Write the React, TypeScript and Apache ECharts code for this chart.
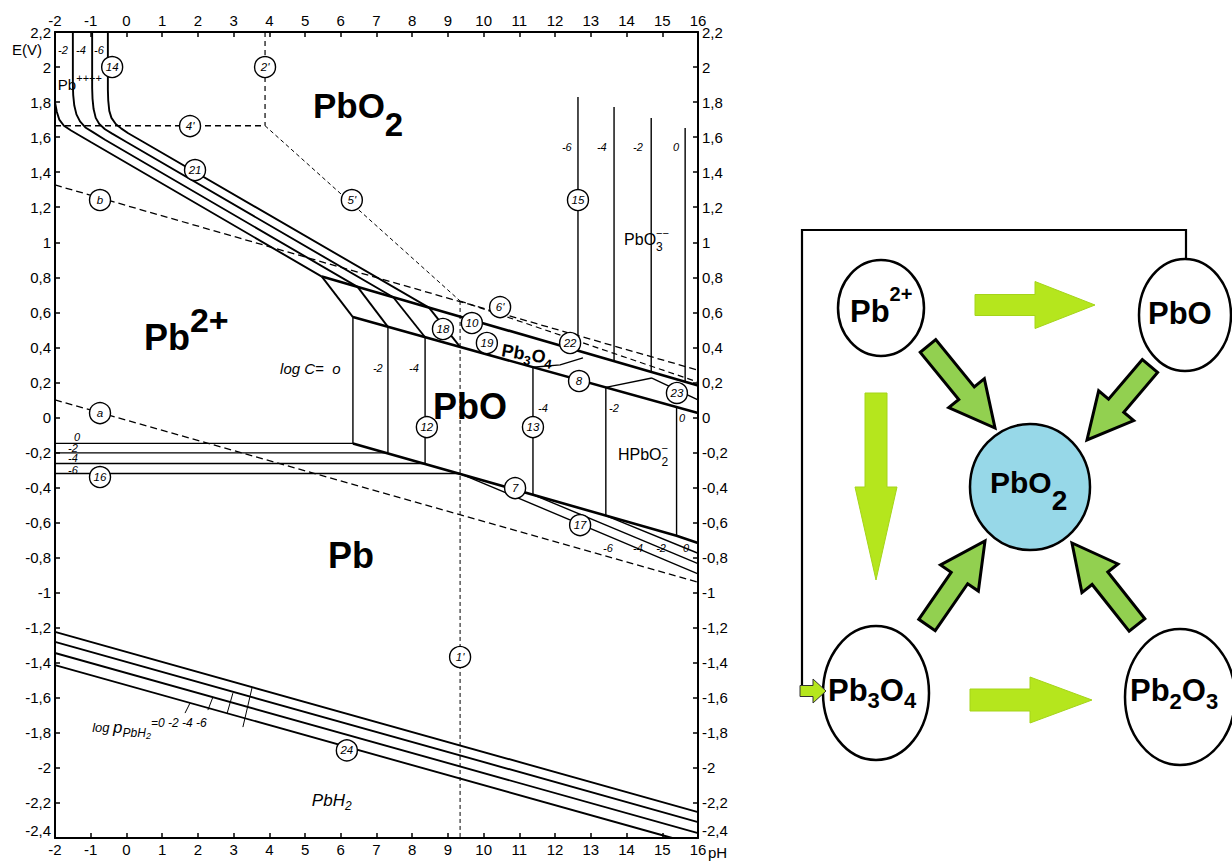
import React, { useEffect, useRef } from "react";
import * as echarts from "echarts";

const FONT = '"Liberation Sans", Arial, Helvetica, sans-serif';

// ---------- axes ----------
const PH_MIN = -2;
const PH_MAX = 16;
const E_MIN = -2.4;
const E_MAX = 2.2;

// ---------- boundary lines, points are [pH, E (V)] ----------
// lines 14 + 21 : PbO2 / dissolved lead, log C = 0, -2, -4, -6
const b21_0 = [[-2, 1.8], [-1.95, 1.745], [-1.88, 1.7], [-1.75, 1.665], [-1.55, 1.638], [-1.3, 1.608], [-1.0, 1.572], [5.47, 0.804]];
const b21_2 = [[-1.5, 2.2], [-1.5, 1.9], [-1.49, 1.84], [-1.46, 1.78], [-1.4, 1.73], [-1.3, 1.69], [-1.15, 1.655], [-0.95, 1.63], [-0.6, 1.585], [6.47, 0.745]];
const b21_4 = [[-0.96, 2.2], [-0.96, 1.88], [-0.95, 1.82], [-0.92, 1.76], [-0.86, 1.71], [-0.76, 1.675], [-0.6, 1.645], [-0.4, 1.62], [0, 1.572], [7.47, 0.686]];
const b21_6 = [[-0.52, 2.2], [-0.52, 1.87], [-0.51, 1.81], [-0.48, 1.75], [-0.42, 1.71], [-0.3, 1.675], [-0.15, 1.65], [0.05, 1.622], [0.45, 1.575], [8.47, 0.627]];
// line 10 (PbO2 / Pb3O4) and lower Pb3O4 boundary (19 / 8)
const b10 = [[5.47, 0.804], [16, 0.183]];
const b8 = [[6.34, 0.573], [16, 0.025]];
// lines 18 (Pb3O4 / Pb2+)
const b18_0 = [[5.47, 0.804], [6.34, 0.573]];
const b18_2 = [[6.47, 0.745], [7.32, 0.517]];
const b18_4 = [[7.47, 0.686], [8.36, 0.458]];
const b18_6 = [[8.47, 0.627], [9.34, 0.403]];
// lines 12 (PbO / Pb2+)
const b12_0 = [[6.34, 0.573], [6.34, -0.148]];
const b12_2 = [[7.32, 0.517], [7.32, -0.202]];
const b12_4 = [[8.36, 0.458], [8.36, -0.263]];
// lines 16 (Pb2+ / Pb)
const b16_0 = [[-2, -0.148], [6.34, -0.148]];
const b16_2 = [[-2, -0.202], [7.32, -0.202]];
const b16_4 = [[-2, -0.263], [8.36, -0.263]];
const b16_6 = [[-2, -0.32], [9.34, -0.32]];
// line 7 (PbO / Pb) and lines 17 (HPbO2- / Pb)
const b7 = [[6.34, -0.148], [15.4, -0.675], [16, -0.716]];
const b17_6 = [[9.34, -0.32], [16, -0.893]];
const b17_4 = [[11.38, -0.44], [16, -0.834]];
const b17_2 = [[13.42, -0.56], [16, -0.775]];
// lines 13 (PbO / HPbO2-)
const b13_4 = [[11.38, 0.287], [11.38, -0.44]];
const b13_2 = [[13.42, 0.172], [13.42, -0.56]];
const b13_0 = [[15.4, 0.06], [15.4, -0.675]];
// lines 15 (PbO2 / PbO3--)
const b15_6 = [[12.64, 1.829], [12.64, 0.381]];
const b15_4 = [[13.65, 1.772], [13.65, 0.322]];
const b15_2 = [[14.69, 1.709], [14.69, 0.26]];
const b15_0 = [[15.64, 1.652], [15.64, 0.204]];
// lines 22 / 23
const b22_4 = [[11.38, 0.287], [12.14, 0.3], [12.78, 0.34]];
const b22_2 = [[13.42, 0.172], [14.71, 0.225]];
const b23 = [[14.71, 0.225], [16, 0.1]];
// lines 24 (Pb / PbH2), log p = 0, -2, -4, -6
const b24_0 = [[-2, -1.413], [15.28, -2.4]];
const b24_2 = [[-2, -1.344], [16, -2.372]];
const b24_4 = [[-2, -1.281], [16, -2.309]];
const b24_6 = [[-2, -1.224], [16, -2.252]];
const lead24_0 = [[1.64, -1.687], [1.78, -1.63]];
const lead24_2 = [[2.28, -1.67], [2.42, -1.596]];
const lead24_4 = [[2.82, -1.687], [2.98, -1.573]];
const lead24_6 = [[3.26, -1.767], [3.52, -1.539]];
// dashed lines
const dA = [[-2, 0.1], [16, -0.94]];
const dB = [[-2, 1.327], [16, 0.27]];
const d1 = [[9.34, 0.665], [9.34, -2.4]];
const d2 = [[3.88, 2.2], [3.88, 1.665]];
const d4 = [[-2, 1.665], [3.88, 1.665]];
const d5 = [[3.88, 1.665], [9.34, 0.665]];
const d6 = [[9.34, 0.665], [16, 0.202]];

// numbered circles [pH, E, label]
const circleLabels: [number, number, string][] = [
  [-0.4, 2.0, "14"], [3.88, 2.0, "2'"], [1.78, 1.663, "4'"], [1.92, 1.412, "21"],
  [6.31, 1.241, "5'"], [-0.74, 1.241, "b"], [12.64, 1.241, "15"], [10.46, 0.63, "6'"],
  [9.67, 0.539, "10"], [8.86, 0.505, "18"], [10.09, 0.425, "19"], [12.42, 0.425, "22"],
  [12.67, 0.208, "8"], [15.41, 0.14, "23"], [-0.74, 0.025, "a"], [8.41, -0.055, "12"],
  [11.38, -0.055, "13"], [-0.74, -0.34, "16"], [10.88, -0.403, "7"], [12.7, -0.614, "17"],
  [9.34, -1.367, "1'"], [6.17, -1.9, "24"],
];

// ---------- helpers ----------
type Part = { t: string; s: number; dy?: number; b?: boolean; i?: boolean; stack?: boolean };
let mctx: CanvasRenderingContext2D | null = null;
function textW(t: string, font: string) {
  if (!mctx) mctx = document.createElement("canvas").getContext("2d");
  mctx!.font = font;
  return mctx!.measureText(t).width;
}
function formula(x: number, y: number, parts: Part[], rot = 0) {
  const children: any[] = [];
  let cx = 0;
  let lastX = 0;
  for (const p of parts) {
    const font = `${p.i ? "italic " : ""}${p.b ? "bold " : ""}${p.s}px ${FONT}`;
    const w = textW(p.t, font);
    const px = p.stack ? lastX : cx;
    children.push({
      type: "text",
      x: px,
      y: p.dy || 0,
      z: 100,
      style: { text: p.t, font, fill: "#000", textAlign: "left", textVerticalAlign: "middle", align: "left", verticalAlign: "middle" },
    });
    if (!p.stack) {
      lastX = cx;
      cx += w;
    }
  }
  return { type: "group", x, y, rotation: rot, children, z: 100 };
}
function blockArrow(x1: number, y1: number, x2: number, y2: number, bw: number, hw: number, hl: number) {
  const len = Math.hypot(x2 - x1, y2 - y1);
  const ux = (x2 - x1) / len;
  const uy = (y2 - y1) / len;
  const nx = -uy;
  const ny = ux;
  const nkx = x1 + ux * (len - hl);
  const nky = y1 + uy * (len - hl);
  return [
    [x1 + (nx * bw) / 2, y1 + (ny * bw) / 2],
    [nkx + (nx * bw) / 2, nky + (ny * bw) / 2],
    [nkx + (nx * hw) / 2, nky + (ny * hw) / 2],
    [x2, y2],
    [nkx - (nx * hw) / 2, nky - (ny * hw) / 2],
    [nkx - (nx * bw) / 2, nky - (ny * bw) / 2],
    [x1 - (nx * bw) / 2, y1 - (ny * bw) / 2],
  ];
}

function ln(data: number[][], w: number, dash?: number[]) {
  return {
    type: "line",
    data,
    symbol: "none",
    silent: true,
    animation: false,
    z: 3,
    lineStyle: { color: "#000", width: w, type: dash ? dash : "solid", cap: "butt" },
  };
}

function buildOption() {
  const yFmt = (v: number) => String(Math.round(v * 10) / 10).replace(".", ",");
  const xFmt = (v: number) => String(Math.round(v));
  const baseX = {
    type: "value",
    min: PH_MIN,
    max: PH_MAX,
    interval: 1,
    axisLine: { show: true, onZero: false, lineStyle: { color: "#000", width: 2 } },
    axisTick: { show: true, inside: true, length: 5, lineStyle: { color: "#000", width: 1.5 } },
    axisLabel: { color: "#000", fontSize: 15, fontFamily: FONT, margin: 4, showMinLabel: true, showMaxLabel: true, formatter: xFmt },
    splitLine: { show: false },
  };
  const baseY = {
    type: "value",
    min: E_MIN,
    max: E_MAX,
    interval: 0.2,
    axisLine: { show: true, onZero: false, lineStyle: { color: "#000", width: 2 } },
    axisTick: { show: true, inside: true, length: 5, lineStyle: { color: "#000", width: 1.5 } },
    axisLabel: {
      color: "#000", fontSize: 15, fontFamily: FONT, margin: 4, showMinLabel: true, showMaxLabel: true,
      verticalAlignMinLabel: "bottom", formatter: yFmt,
    },
    splitLine: { show: false },
  };
  const heavy = [b10, b8, b7];
  const mid = [b21_0, b21_2, b21_4, b21_6, b18_0, b18_2, b18_4, b18_6, b24_0, b24_2, b24_4, b24_6];
  const thin = [b12_0, b12_2, b12_4, b16_0, b16_2, b16_4, b16_6, b17_6, b17_4, b17_2, b13_4, b13_2, b13_0,
    b15_6, b15_4, b15_2, b15_0, b22_4, b22_2, b23];
  const leaders = [lead24_0, lead24_2, lead24_4, lead24_6];
  const series: any[] = [
    ...heavy.map((d) => ln(d, 2.6)),
    ...mid.map((d) => ln(d, 1.9)),
    ...thin.map((d) => ln(d, 1.4)),
    ...leaders.map((d) => ln(d, 1)),
    ln(dA, 1.3, [7, 4]),
    ln(dB, 1.3, [7, 4]),
    ln(d1, 1, [4, 3]),
    ln(d2, 1.2, [5, 4]),
    ln(d4, 1.3, [6, 4]),
    ln(d5, 1, [4, 3]),
    ln(d6, 1.2, [6, 4]),
    {
      type: "scatter",
      data: circleLabels.map(([x, y, t]) => ({ value: [x, y], name: t })),
      symbol: "circle",
      symbolSize: 21,
      z: 6,
      silent: true,
      itemStyle: { color: "#fff", borderColor: "#000", borderWidth: 1.4, opacity: 1 },
      label: { show: true, position: "inside", formatter: "{b}", color: "#000", fontSize: 11.5, fontStyle: "italic", fontFamily: FONT },
    },
  ];
  return {
    animation: false,
    backgroundColor: "#fff",
    grid: { left: 55, top: 32, width: 643, height: 806, containLabel: false },
    xAxis: [
      { ...baseX, position: "bottom" },
      { ...baseX, position: "top" },
    ],
    yAxis: [
      { ...baseY, position: "left" },
      { ...baseY, position: "right" },
    ],
    series,
  };
}

function buildGraphics(toPx: (x: number, y: number) => number[]) {
  const at = (pH: number, e: number, parts: Part[], rot = 0) => {
    const p = toPx(pH, e);
    return formula(p[0], p[1], parts, rot);
  };
  const el: any[] = [];
  // --- Pourbaix annotations
  el.push(at(5.22, 1.778, [{ t: "PbO", s: 35, b: true }, { t: "2", s: 33, b: true, dy: 19 }]));
  el.push(at(0.49, 0.459, [{ t: "Pb", s: 36, b: true }, { t: "2+", s: 34, b: true, dy: -17 }]));
  el.push(at(8.58, 0.06, [{ t: "PbO", s: 36, b: true }]));
  el.push(at(5.64, -0.785, [{ t: "Pb", s: 36, b: true }]));
  el.push(at(10.51, 0.385, [{ t: "Pb", s: 18, b: true }, { t: "3", s: 13, b: true, dy: 6 }, { t: "O", s: 18, b: true }, { t: "4", s: 13, b: true, dy: 6 }], -0.17));
  el.push(at(13.93, 1.013, [{ t: "PbO", s: 16 }, { t: "3", s: 12, dy: 7 }, { t: "\u2212\u2212", s: 11, dy: -7, stack: true }]));
  el.push(at(13.76, -0.214, [{ t: "HPbO", s: 16 }, { t: "2", s: 12, dy: 7 }, { t: "\u2212", s: 11, dy: -7, stack: true }]));
  el.push(at(-1.92, 1.903, [{ t: "Pb", s: 15 }, { t: "++++", s: 11, dy: -6 }]));
  el.push(at(5.19, -2.184, [{ t: "PbH", s: 17, i: true }, { t: "2", s: 12, i: true, dy: 6 }]));
  el.push(at(-0.96, -1.767, [
    { t: "log ", s: 13, i: true },
    { t: "p", s: 17, i: true },
    { t: "PbH", s: 12, i: true, dy: 6 },
    { t: "2", s: 9, i: true, dy: 9 },
    { t: "=0 -2 -4 -6", s: 12, i: true, dy: -4 },
  ]));
  el.push(at(4.3, 0.282, [{ t: "log C=  o", s: 15, i: true }]));
  const small: [number, number, string][] = [
    [6.9, 0.282, "-2"], [7.91, 0.282, "-4"],
    [-1.916, 2.097, "-2"], [-1.41, 2.097, "-4"], [-0.908, 2.097, "-6"],
    [12.19, 1.544, "-6"], [13.17, 1.544, "-4"], [14.18, 1.544, "-2"], [15.3, 1.544, "0"],
    [-1.47, -0.112, "0"], [-1.636, -0.174, "-2"], [-1.636, -0.232, "-4"], [-1.636, -0.3, "-6"],
    [11.52, 0.054, "-4"], [13.51, 0.054, "-2"], [15.47, -0.003, "0"],
    [13.34, -0.745, "-6"], [14.18, -0.745, "-4"], [14.83, -0.745, "-2"], [15.58, -0.745, "0"],
  ];
  for (const [x, y, t] of small) el.push(at(x, y, [{ t, s: 11, i: true }]));
  el.push({ type: "text", x: 12, y: 49, z: 100, style: { text: "E(V)", font: `15px ${FONT}`, fill: "#000", textVerticalAlign: "middle", verticalAlign: "middle" } });
  el.push({ type: "text", x: 708, y: 852, z: 100, style: { text: "pH", font: `15px ${FONT}`, fill: "#000", textVerticalAlign: "middle", verticalAlign: "middle" } });

  // --- reaction scheme
  const light = "#b5e61d";
  const dark = "#92d050";
  el.push({ type: "polyline", z: 90, shape: { points: [[1186, 259], [1186, 230], [802, 230], [802, 691], [806, 691]] }, style: { stroke: "#000", lineWidth: 2.2, fill: null } });
  el.push({ type: "polygon", z: 95, shape: { points: blockArrow(800, 691, 826, 691, 11, 24, 13) }, style: { fill: light, stroke: "#333", lineWidth: 1 } });
  const ell = (cx: number, cy: number, rx: number, ry: number, fill: string) =>
    ({ type: "ellipse", z: 92, shape: { cx, cy, rx, ry }, style: { fill, stroke: "#000", lineWidth: 2.5 } });
  el.push(ell(881, 308, 43, 48, "#fff"));
  el.push(ell(1185, 315, 46, 56, "#fff"));
  el.push(ell(1030, 487, 60, 63, "#97d8e8"));
  el.push(ell(876, 693, 53, 67, "#fff"));
  el.push(ell(1180, 697, 55, 68, "#fff"));
  const arr = (pts: number[][], fill: string, stroke: string, lw: number) =>
    ({ type: "polygon", z: 94, shape: { points: pts }, style: { fill, stroke, lineWidth: lw, lineJoin: "miter" } });
  el.push(arr(blockArrow(975, 305, 1095, 305, 21, 47, 60), light, "#a5d41a", 1));
  el.push(arr(blockArrow(876, 393, 876, 580, 22, 42, 93), light, "#a5d41a", 1));
  el.push(arr(blockArrow(970, 700, 1092, 700, 22, 46, 62), light, "#a5d41a", 1));
  el.push(arr(blockArrow(928, 346, 995, 428, 20, 46, 45), dark, "#000", 3));
  el.push(arr(blockArrow(1150, 366, 1087, 440, 20, 46, 45), dark, "#000", 3));
  el.push(arr(blockArrow(927, 625, 985, 541, 20, 46, 45), dark, "#000", 3));
  el.push(arr(blockArrow(1137, 625, 1072, 543, 20, 46, 45), dark, "#000", 3));
  el.push(formula(850, 311, [{ t: "Pb", s: 31, b: true }, { t: "2+", s: 20, b: true, dy: -17 }]));
  el.push(formula(1148, 313, [{ t: "PbO", s: 31, b: true }]));
  el.push(formula(990, 482, [{ t: "PbO", s: 30, b: true }, { t: "2", s: 28, b: true, dy: 18 }]));
  el.push(formula(828, 690, [{ t: "Pb", s: 31, b: true }, { t: "3", s: 22, b: true, dy: 10 }, { t: "O", s: 31, b: true }, { t: "4", s: 22, b: true, dy: 10 }]));
  el.push(formula(1130, 690, [{ t: "Pb", s: 31, b: true }, { t: "2", s: 22, b: true, dy: 11 }, { t: "O", s: 31, b: true }, { t: "3", s: 22, b: true, dy: 11 }]));
  return el;
}

export default function App() {
  const ref = useRef<HTMLDivElement>(null);
  useEffect(() => {
    if (!ref.current) return;
    const chart = echarts.init(ref.current, null, { renderer: "svg" });
    chart.setOption(buildOption() as any);
    const toPx = (x: number, y: number) => chart.convertToPixel({ gridIndex: 0 }, [x, y]) as number[];
    chart.setOption({ graphic: { elements: buildGraphics(toPx) } } as any);
    return () => chart.dispose();
  }, []);
  return (
    <div
      ref={ref}
      style={{ position: "absolute", left: 0, top: 0, width: 1232, height: 861, background: "#fff" }}
    />
  );
}
